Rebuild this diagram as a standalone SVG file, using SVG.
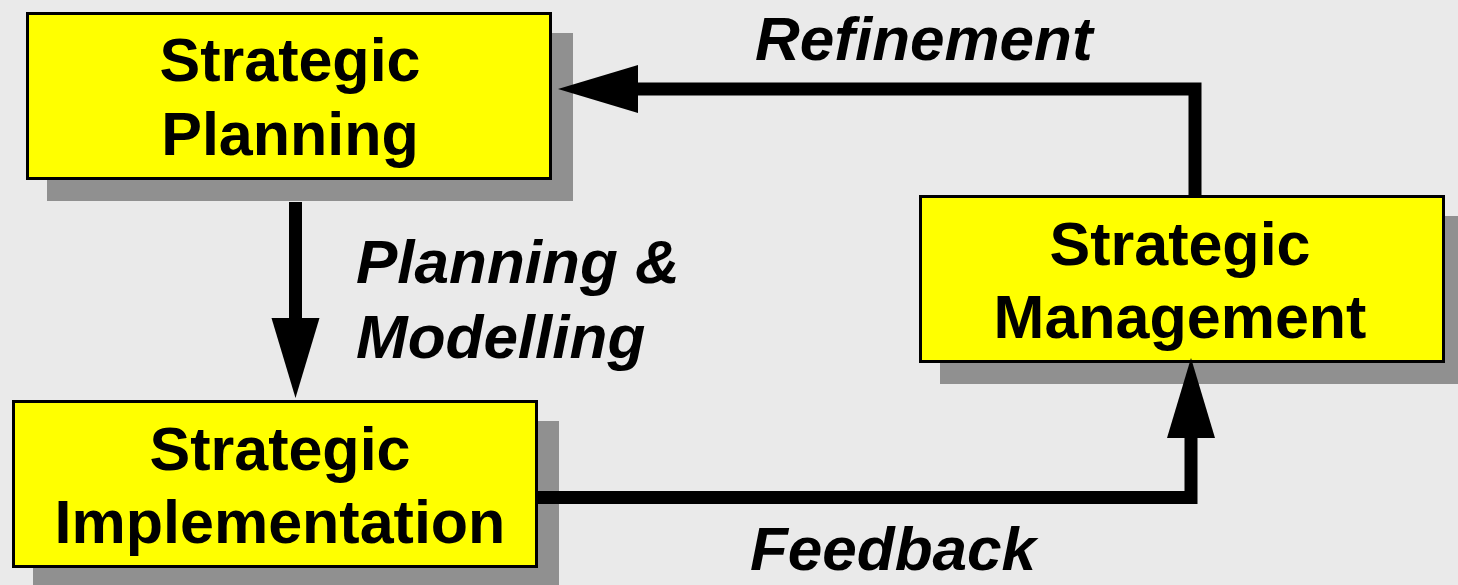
<svg xmlns="http://www.w3.org/2000/svg" width="1458" height="585" viewBox="0 0 1458 585">
  <style>
    .shadow { fill: #909090; }
    .box { fill: #ffff00; stroke: #000000; stroke-width: 3; }
    .node-text { font-family: "Liberation Sans", Arial, sans-serif; font-weight: bold; font-size: 61px; fill: #000000; text-anchor: middle; }
    .label { font-family: "Liberation Sans", Arial, sans-serif; font-weight: bold; font-style: italic; font-size: 62px; fill: #000000; }
    .flow { fill: none; stroke: #000000; stroke-width: 13; stroke-linejoin: miter; stroke-linecap: butt; }
  </style>
  <defs>
    <marker id="head" markerUnits="userSpaceOnUse" markerWidth="80" markerHeight="48" refX="0" refY="24" orient="auto" overflow="visible">
      <path d="M0,0 L80,24 L0,48 Z" fill="#000000"/>
    </marker>
  </defs>

  <rect width="1458" height="585" fill="#eaeaea"/>

  <g id="strategic-planning">
    <rect class="shadow" x="47" y="33" width="526" height="168"/>
    <rect class="box" x="27.5" y="13.5" width="523" height="165"/>
    <text class="node-text" x="290" y="81">Strategic</text>
    <text class="node-text" x="290" y="155">Planning</text>
  </g>

  <g id="strategic-implementation">
    <rect class="shadow" x="33" y="421" width="526" height="168"/>
    <rect class="box" x="13.5" y="401.5" width="523" height="165"/>
    <text class="node-text" x="280" y="470">Strategic</text>
    <text class="node-text" x="280" y="543">Implementation</text>
  </g>

  <g id="strategic-management">
    <rect class="shadow" x="940" y="216" width="526" height="168"/>
    <rect class="box" x="920.5" y="196.5" width="523" height="165"/>
    <text class="node-text" x="1180" y="265">Strategic</text>
    <text class="node-text" x="1180" y="338">Management</text>
  </g>

  <g id="connectors">
    <!-- Refinement: management back up to planning -->
    <polyline class="flow" points="1195,197 1195,89 638,89" marker-end="url(#head)"/>
    <!-- Planning & Modelling: planning down to implementation -->
    <polyline class="flow" points="295.5,202 295.5,318" marker-end="url(#head)"/>
    <!-- Feedback: implementation across to management -->
    <polyline class="flow" points="538,497.5 1191,497.5 1191,438" marker-end="url(#head)"/>
  </g>

  <g id="labels">
    <text class="label" x="755" y="60">Refinement</text>
    <text class="label" x="356" y="283">Planning &amp;</text>
    <text class="label" x="356" y="358">Modelling</text>
    <text class="label" x="750" y="570">Feedback</text>
  </g>
</svg>
